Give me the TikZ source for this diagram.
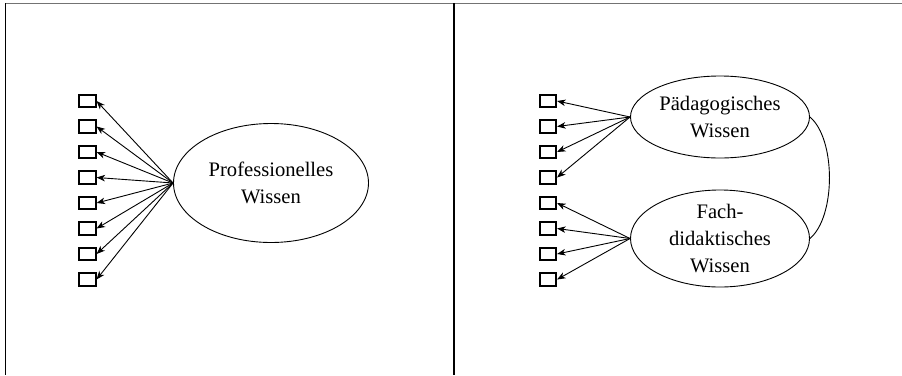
\documentclass[tikz,border=0pt]{standalone}
\usepackage{fontspec}
\setmainfont{Liberation Serif}
\usetikzlibrary{arrows.meta,shapes.geometric}
\begin{document}
\begin{tikzpicture}[x=1pt,y=-1pt,
  itembox/.style={draw,line width=1.6pt,minimum width=16.5pt,minimum height=12.5pt,inner sep=0pt},
  factor/.style={draw,ellipse,line width=0.9pt,inner sep=0pt,align=center,
    font=\fontsize{20.6pt}{27pt}\selectfont},
  load/.style={line width=0.9pt,-{Stealth[length=8.5pt,width=6.5pt,inset=2.5pt]}},
  corr/.style={line width=0.9pt}]
\useasboundingbox (0,0) rectangle (902,375);
% frame
\draw[line width=1.3pt,draw=black!55] (5,3.5) -- (902,3.5);
\draw[line width=1.2pt] (5.3,3) -- (5.3,375);
\draw[line width=2pt] (454,3) -- (454,375);
% left panel
\node[factor,minimum width=195pt,minimum height=119pt] (pw) at (271,183) {Professionelles\\Wissen};
\foreach \i/\y in {1/101,2/126.5,3/152,4/177.5,5/203,6/228.5,7/254,8/279.5}{
  \node[itembox] (a\i) at (87.5,\y) {};
  \draw[load] (pw.west) -- (a\i.east);
}
% right panel
\node[factor,minimum width=179pt,minimum height=82pt] (paed) at (720,117) {Pädagogisches\\Wissen};
\node[factor,minimum width=179pt,minimum height=97pt] (fd) at (720,238.5) {Fach-\\didaktisches\\Wissen};
\foreach \i/\y in {1/101,2/126.5,3/152,4/177.5,5/203,6/228.5,7/254,8/279.5}{
  \node[itembox] (b\i) at (548,\y) {};
}
\foreach \i in {1,2,3,4}{\draw[load] (paed.west) -- (b\i.east);}
\foreach \i in {5,6,7,8}{\draw[load] (fd.west) -- (b\i.east);}
\draw[corr] (paed.east) .. controls +(26,22) and +(26,-22) .. (fd.east);
\end{tikzpicture}
\end{document}
